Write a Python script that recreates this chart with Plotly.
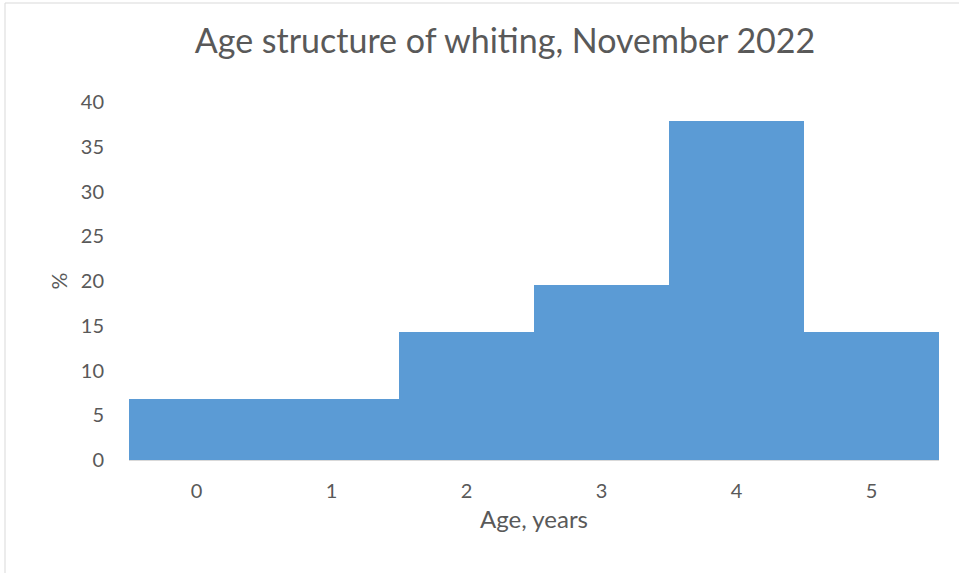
import plotly.graph_objects as go

ages = ["0", "1", "2", "3", "4", "5"]
percent = [6.85, 6.85, 14.3, 19.5, 37.85, 14.3]

W, H = 959, 573
L, R, T, B = 129, 20, 102, 113
pw = W - L - R
ph = H - T - B

fig = go.Figure(go.Bar(x=ages, y=percent, marker=dict(color="#5B9BD5", line=dict(width=0)), width=1.0))

font = "Lato, 'Open Sans', sans-serif"
grey = "#595959"

fig.update_layout(
    width=W, height=H,
    margin=dict(l=L, r=R, t=T, b=B),
    paper_bgcolor="white", plot_bgcolor="white",
    bargap=0,
    showlegend=False,
    title=dict(text="Age structure of whiting, November 2022", x=(505) / W, xanchor="center",
               y=1 - 41 / H, yanchor="middle", font=dict(family=font, size=34, color=grey)),
    xaxis=dict(type="category", showgrid=False, showline=True, linecolor="#D9D9D9", linewidth=1,
               ticks="outside", ticklen=13, tickcolor="rgba(0,0,0,0)",
               tickfont=dict(family=font, size=20, color=grey),
               title=dict(text="Age, years", font=dict(family=font, size=24, color=grey), standoff=10),
               range=[-0.5, 5.5]),
    yaxis=dict(range=[0, 40], dtick=5, showgrid=False, zeroline=False, showline=False,
               ticks="outside", ticklen=20, tickcolor="rgba(0,0,0,0)",
               tickfont=dict(family=font, size=20, color=grey),
               title=dict(text="%", font=dict(family=font, size=21, color=grey), standoff=7)),
    shapes=[dict(type="rect", xref="paper", yref="paper",
                 x0=(5 - L) / pw, x1=(W + 10 - L) / pw,
                 y0=-(H + 10 - T - ph) / ph, y1=1 + (T - 3) / ph,
                 line=dict(color="#D9D9D9", width=1), fillcolor="rgba(0,0,0,0)", layer="below")],
)

fig.write_html("out.html")
